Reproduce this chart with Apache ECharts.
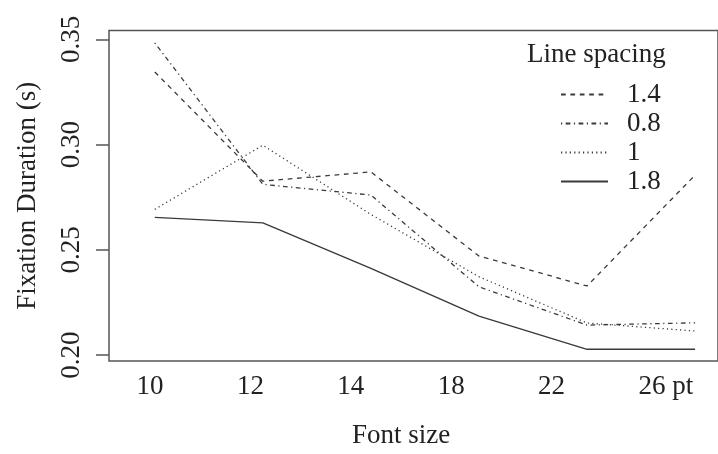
<!DOCTYPE html>
<html>
<head>
<meta charset="utf-8">
<script src="https://cdn.jsdelivr.net/npm/echarts@6/dist/echarts.min.js"></script>
<style>
html,body{margin:0;padding:0;background:#fff;}
#chart{width:718px;height:454px;}
</style>
</head>
<body>
<div id="chart"></div>
<script>
// ---- data ----
const categories = ['10', '12', '14', '18', '22', '26 pt'];
const seriesNames = ['1.4', '0.8', '1', '1.8'];
const values_1_4 = [0.3345, 0.2826, 0.2870, 0.2470, 0.2328, 0.2855];
const values_0_8 = [0.3483, 0.2811, 0.2760, 0.2324, 0.2142, 0.2153];
const values_1   = [0.2692, 0.2997, 0.2668, 0.2372, 0.2152, 0.2114];
const values_1_8 = [0.2654, 0.2628, 0.2412, 0.2185, 0.2027, 0.2027];
const yTicks = [0.20, 0.25, 0.30, 0.35];

const FONT = 'Liberation Serif';
const INK = '#222';
const LINE = '#3a3a3a';

function toPoints(vals) { return vals.map((v, i) => [i, v]); }

const dashTypes = {
  '1.4': [4.7, 4.7],
  '0.8': [1.2, 3.5, 4.7, 3.5],
  '1': [1.2, 3.2],
  '1.8': 'solid'
};
const seriesValues = { '1.4': values_1_4, '0.8': values_0_8, '1': values_1, '1.8': values_1_8 };

const chart = echarts.init(document.getElementById('chart'), null, { renderer: 'canvas' });

chart.setOption({
  animation: false,
  backgroundColor: '#fff',
  textStyle: { fontFamily: FONT, color: INK },
  title: {
    text: 'Line spacing',
    left: 527, top: 42, padding: 0,
    textStyle: { fontFamily: FONT, fontSize: 27, fontWeight: 'normal', color: INK, lineHeight: 26 }
  },
  legend: {
    data: seriesNames,
    orient: 'vertical',
    left: 560, top: 81, padding: 0,
    itemWidth: 47, itemHeight: 14, itemGap: 2,
    itemStyle: { opacity: 0, borderWidth: 0 },
    textStyle: { fontFamily: FONT, fontSize: 27, color: INK, lineHeight: 26, padding: [0, 0, 0, 14] }
  },
  grid: [
    { left: 109, right: -3, top: 30.5, bottom: 93, show: true, borderColor: '#555', borderWidth: 1.5, backgroundColor: 'transparent' },
    { left: 150, right: 66, top: 30.5, bottom: 93, show: false }
  ],
  xAxis: [
    {
      type: 'value', gridIndex: 0, min: -0.4236, max: 5.2119,
      axisLine: { show: false, onZero: false }, axisTick: { show: false }, axisLabel: { show: false }, splitLine: { show: false }
    },
    {
      type: 'category', gridIndex: 1, data: categories, boundaryGap: false,
      axisLine: { show: false, onZero: false }, axisTick: { show: false }, splitLine: { show: false },
      name: 'Font size', nameLocation: 'middle', nameGap: 66,
      nameTextStyle: { fontFamily: FONT, fontSize: 27, color: INK, lineHeight: 26 },
      axisLabel: {
        margin: 17, fontFamily: FONT, fontSize: 27, color: INK, lineHeight: 26,
        interval: 0,
        formatter: function (v) { return v === '26 pt' ? '{pad| }' + v : v; },
        rich: { pad: { width: 28 } }
      }
    }
  ],
  yAxis: [
    {
      type: 'value', gridIndex: 0, min: 0.19715, max: 0.3542,
      axisLine: { show: false, onZero: false },
      splitLine: { show: false },
      axisTick: { show: true, length: 13, customValues: yTicks, lineStyle: { color: '#555', width: 1.5 } },
      axisLabel: {
        customValues: yTicks, rotate: 90, margin: 24,
        fontFamily: FONT, fontSize: 27, color: INK, lineHeight: 26,
        formatter: function (v) { return v.toFixed(2); }
      },
      name: 'Fixation Duration (s)', nameLocation: 'middle', nameRotate: 90, nameGap: 68,
      nameTextStyle: { fontFamily: FONT, fontSize: 27, color: INK, lineHeight: 26 }
    },
    {
      type: 'value', gridIndex: 1, show: false, min: 0, max: 1
    }
  ],
  series: seriesNames.map(name => ({
    name: name,
    type: 'line',
    xAxisIndex: 0, yAxisIndex: 0,
    data: toPoints(seriesValues[name]),
    symbol: 'none',
    color: LINE,
    lineStyle: { color: LINE, width: name === '1.8' ? 1.4 : 1.3, type: dashTypes[name] }
  }))
});
</script>
</body>
</html>
